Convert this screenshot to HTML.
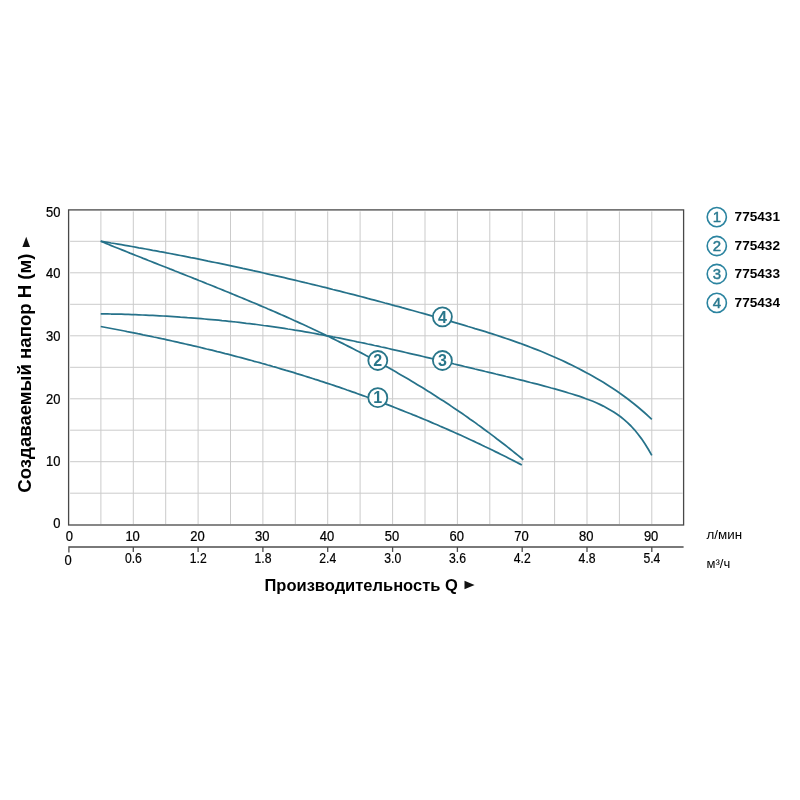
<!DOCTYPE html>
<html lang="ru"><head><meta charset="utf-8"><title>График</title>
<style>
html,body{margin:0;padding:0;background:#fff;}
body{width:800px;height:800px;overflow:hidden;}
svg{display:block;}
text{font-family:'Liberation Sans', sans-serif;fill:#000;}
.t{font-size:14.2px;stroke:#000;stroke-width:0.25px;}
.t2{font-size:14.2px;stroke:#000;stroke-width:0.2px;}
.b{font-weight:bold;}
.c{fill:#29768a;font-weight:bold;font-size:16px;text-anchor:middle;}
</style></head><body>
<svg width="800" height="800" viewBox="0 0 800 800">
<rect width="800" height="800" fill="#fff"/>
<g stroke="#cbcbcb" stroke-width="1" fill="none">
<line x1="100.9" y1="211.4" x2="100.9" y2="524.0"/>
<line x1="133.3" y1="211.4" x2="133.3" y2="524.0"/>
<line x1="165.7" y1="211.4" x2="165.7" y2="524.0"/>
<line x1="198.1" y1="211.4" x2="198.1" y2="524.0"/>
<line x1="230.5" y1="211.4" x2="230.5" y2="524.0"/>
<line x1="262.9" y1="211.4" x2="262.9" y2="524.0"/>
<line x1="295.3" y1="211.4" x2="295.3" y2="524.0"/>
<line x1="327.7" y1="211.4" x2="327.7" y2="524.0"/>
<line x1="360.1" y1="211.4" x2="360.1" y2="524.0"/>
<line x1="392.6" y1="211.4" x2="392.6" y2="524.0"/>
<line x1="425.0" y1="211.4" x2="425.0" y2="524.0"/>
<line x1="457.4" y1="211.4" x2="457.4" y2="524.0"/>
<line x1="489.8" y1="211.4" x2="489.8" y2="524.0"/>
<line x1="522.2" y1="211.4" x2="522.2" y2="524.0"/>
<line x1="554.6" y1="211.4" x2="554.6" y2="524.0"/>
<line x1="587.0" y1="211.4" x2="587.0" y2="524.0"/>
<line x1="619.4" y1="211.4" x2="619.4" y2="524.0"/>
<line x1="651.8" y1="211.4" x2="651.8" y2="524.0"/>
<line x1="70.1" y1="493.2" x2="682.6" y2="493.2"/>
<line x1="70.1" y1="461.7" x2="682.6" y2="461.7"/>
<line x1="70.1" y1="430.2" x2="682.6" y2="430.2"/>
<line x1="70.1" y1="398.8" x2="682.6" y2="398.8"/>
<line x1="70.1" y1="367.3" x2="682.6" y2="367.3"/>
<line x1="70.1" y1="335.8" x2="682.6" y2="335.8"/>
<line x1="70.1" y1="304.3" x2="682.6" y2="304.3"/>
<line x1="70.1" y1="272.8" x2="682.6" y2="272.8"/>
<line x1="70.1" y1="241.3" x2="682.6" y2="241.3"/>
</g>
<rect x="68.6" y="209.9" width="615.0" height="315.1" fill="none" stroke="#484848" stroke-width="1.3"/>
<g fill="none" stroke="#26728a" stroke-width="1.75" stroke-linecap="butt" stroke-linejoin="round">

<path d="M100.7,326.5 L103.3,327.0 L106.0,327.5 L108.6,328.0 L111.3,328.5 L113.9,329.0 L116.6,329.5 L119.2,330.0 L121.9,330.5 L124.5,331.0 L127.2,331.6 L129.8,332.1 L132.5,332.6 L135.1,333.1 L137.8,333.7 L140.4,334.2 L143.1,334.8 L145.7,335.3 L148.4,335.8 L151.0,336.4 L153.7,337.0 L156.3,337.5 L159.0,338.1 L161.6,338.7 L164.3,339.2 L166.9,339.8 L169.6,340.4 L172.2,341.0 L174.9,341.6 L177.5,342.2 L180.2,342.8 L182.8,343.4 L185.4,344.0 L188.1,344.6 L190.7,345.2 L193.4,345.8 L196.0,346.4 L198.7,347.0 L201.3,347.7 L204.0,348.3 L206.6,349.0 L209.3,349.6 L211.9,350.2 L214.6,350.9 L217.2,351.6 L219.9,352.2 L222.5,352.9 L225.2,353.6 L227.8,354.2 L230.5,354.9 L233.1,355.6 L235.8,356.3 L238.4,357.0 L241.1,357.7 L243.7,358.4 L246.4,359.1 L249.0,359.8 L251.7,360.5 L254.3,361.3 L257.0,362.0 L259.6,362.7 L262.3,363.5 L264.9,364.2 L267.6,365.0 L270.2,365.7 L272.8,366.5 L275.5,367.2 L278.1,368.0 L280.8,368.8 L283.4,369.6 L286.1,370.4 L288.7,371.1 L291.4,371.9 L294.0,372.7 L296.7,373.6 L299.3,374.4 L302.0,375.2 L304.6,376.0 L307.3,376.8 L309.9,377.7 L312.6,378.5 L315.2,379.4 L317.9,380.2 L320.5,381.1 L323.2,381.9 L325.8,382.8 L328.5,383.7 L331.1,384.5 L333.8,385.4 L336.4,386.3 L339.1,387.2 L341.7,388.1 L344.4,389.0 L347.0,390.0 L349.7,390.9 L352.3,391.8 L354.9,392.7 L357.6,393.7 L360.2,394.6 L362.9,395.6 L365.5,396.5 L368.2,397.5 L370.8,398.5 L373.5,399.4 L376.1,400.4 L378.8,401.4 L381.4,402.4 L384.1,403.4 L386.7,404.4 L389.4,405.4 L392.0,406.4 L394.7,407.5 L397.3,408.5 L400.0,409.6 L402.6,410.6 L405.3,411.7 L407.9,412.7 L410.6,413.8 L413.2,414.9 L415.9,415.9 L418.5,417.0 L421.2,418.1 L423.8,419.2 L426.5,420.3 L429.1,421.4 L431.8,422.6 L434.4,423.7 L437.1,424.8 L439.7,426.0 L442.3,427.1 L445.0,428.3 L447.6,429.4 L450.3,430.6 L452.9,431.8 L455.6,433.0 L458.2,434.1 L460.9,435.3 L463.5,436.5 L466.2,437.8 L468.8,439.0 L471.5,440.2 L474.1,441.4 L476.8,442.7 L479.4,443.9 L482.1,445.2 L484.7,446.5 L487.4,447.7 L490.0,449.0 L492.7,450.3 L495.3,451.6 L498.0,452.9 L500.6,454.2 L503.3,455.5 L505.9,456.8 L508.6,458.2 L511.2,459.5 L513.9,460.9 L516.5,462.2 L519.2,463.6 L521.8,465.0"/>
<path d="M100.7,241.2 L103.4,242.3 L106.0,243.4 L108.7,244.5 L111.3,245.6 L114.0,246.7 L116.6,247.7 L119.3,248.8 L122.0,249.9 L124.6,250.9 L127.3,252.0 L129.9,253.1 L132.6,254.1 L135.3,255.2 L137.9,256.2 L140.6,257.3 L143.2,258.4 L145.9,259.4 L148.5,260.5 L151.2,261.5 L153.9,262.6 L156.5,263.6 L159.2,264.7 L161.8,265.7 L164.5,266.8 L167.1,267.8 L169.8,268.9 L172.5,269.9 L175.1,271.0 L177.8,272.0 L180.4,273.1 L183.1,274.1 L185.8,275.2 L188.4,276.3 L191.1,277.3 L193.7,278.4 L196.4,279.4 L199.0,280.5 L201.7,281.5 L204.4,282.6 L207.0,283.7 L209.7,284.7 L212.3,285.8 L215.0,286.9 L217.6,288.0 L220.3,289.0 L223.0,290.1 L225.6,291.2 L228.3,292.3 L230.9,293.4 L233.6,294.5 L236.3,295.6 L238.9,296.7 L241.6,297.8 L244.2,298.9 L246.9,300.0 L249.5,301.1 L252.2,302.2 L254.9,303.3 L257.5,304.4 L260.2,305.6 L262.8,306.7 L265.5,307.8 L268.1,309.0 L270.8,310.1 L273.5,311.3 L276.1,312.4 L278.8,313.6 L281.4,314.8 L284.1,315.9 L286.8,317.1 L289.4,318.3 L292.1,319.5 L294.7,320.7 L297.4,321.9 L300.0,323.1 L302.7,324.3 L305.4,325.5 L308.0,326.8 L310.7,328.0 L313.3,329.2 L316.0,330.5 L318.6,331.8 L321.3,333.0 L324.0,334.3 L326.6,335.6 L329.3,336.8 L331.9,338.1 L334.6,339.4 L337.2,340.8 L339.9,342.1 L342.6,343.4 L345.2,344.7 L347.9,346.1 L350.5,347.4 L353.2,348.8 L355.9,350.2 L358.5,351.5 L361.2,352.9 L363.8,354.3 L366.5,355.7 L369.1,357.1 L371.8,358.6 L374.5,360.0 L377.1,361.4 L379.8,362.9 L382.4,364.4 L385.1,365.8 L387.7,367.3 L390.4,368.8 L393.1,370.3 L395.7,371.8 L398.4,373.4 L401.0,374.9 L403.7,376.4 L406.4,378.0 L409.0,379.6 L411.7,381.2 L414.3,382.8 L417.0,384.4 L419.6,386.0 L422.3,387.6 L425.0,389.3 L427.6,390.9 L430.3,392.6 L432.9,394.3 L435.6,396.0 L438.2,397.7 L440.9,399.4 L443.6,401.1 L446.2,402.8 L448.9,404.6 L451.5,406.4 L454.2,408.2 L456.9,410.0 L459.5,411.8 L462.2,413.6 L464.8,415.4 L467.5,417.3 L470.1,419.2 L472.8,421.0 L475.5,422.9 L478.1,424.9 L480.8,426.8 L483.4,428.7 L486.1,430.7 L488.7,432.6 L491.4,434.6 L494.1,436.6 L496.7,438.7 L499.4,440.7 L502.0,442.7 L504.7,444.8 L507.4,446.9 L510.0,449.0 L512.7,451.1 L515.3,453.2 L518.0,455.4 L520.6,457.5 L523.3,459.7"/>
<path d="M100.7,313.8 L104.2,313.8 L107.6,313.9 L111.1,314.0 L114.6,314.0 L118.0,314.1 L121.5,314.2 L125.0,314.3 L128.4,314.4 L131.9,314.6 L135.4,314.7 L138.8,314.8 L142.3,315.0 L145.8,315.1 L149.2,315.3 L152.7,315.4 L156.2,315.6 L159.6,315.8 L163.1,316.0 L166.6,316.2 L170.0,316.4 L173.5,316.6 L177.0,316.8 L180.4,317.1 L183.9,317.3 L187.4,317.6 L190.8,317.8 L194.3,318.1 L197.7,318.4 L201.2,318.7 L204.7,319.0 L208.1,319.3 L211.6,319.6 L215.1,319.9 L218.5,320.2 L222.0,320.6 L225.5,320.9 L228.9,321.3 L232.4,321.7 L235.9,322.0 L239.3,322.4 L242.8,322.8 L246.3,323.3 L249.7,323.7 L253.2,324.1 L256.7,324.5 L260.1,325.0 L263.6,325.5 L267.1,325.9 L270.5,326.4 L274.0,326.9 L277.5,327.4 L280.9,327.9 L284.4,328.4 L287.9,329.0 L291.3,329.5 L294.8,330.1 L298.3,330.6 L301.7,331.2 L305.2,331.8 L308.7,332.4 L312.1,333.0 L315.6,333.6 L319.1,334.3 L322.5,334.9 L326.0,335.6 L329.5,336.2 L332.9,336.9 L336.4,337.5 L339.9,338.2 L343.3,338.9 L346.8,339.6 L350.3,340.3 L353.7,341.0 L357.2,341.8 L360.7,342.5 L364.1,343.2 L367.6,344.0 L371.1,344.7 L374.5,345.5 L378.0,346.2 L381.4,347.0 L384.9,347.7 L388.4,348.5 L391.8,349.3 L395.3,350.1 L398.8,350.9 L402.2,351.7 L405.7,352.5 L409.2,353.3 L412.6,354.1 L416.1,354.9 L419.6,355.7 L423.0,356.5 L426.5,357.3 L430.0,358.2 L433.4,359.0 L436.9,359.8 L440.4,360.6 L443.8,361.5 L447.3,362.3 L450.8,363.1 L454.2,364.0 L457.7,364.8 L461.2,365.6 L464.6,366.5 L468.1,367.3 L471.6,368.1 L475.0,369.0 L478.5,369.8 L482.0,370.6 L485.4,371.5 L488.9,372.3 L492.4,373.1 L495.8,374.0 L499.3,374.8 L502.8,375.6 L506.2,376.5 L509.7,377.3 L513.2,378.1 L516.6,379.0 L520.1,379.8 L523.6,380.7 L527.0,381.6 L530.5,382.5 L534.0,383.3 L537.4,384.2 L540.9,385.1 L544.4,386.1 L547.8,387.0 L551.3,388.0 L554.8,388.9 L558.2,389.9 L561.7,390.9 L565.1,391.9 L568.6,393.0 L572.1,394.0 L575.5,395.1 L579.0,396.2 L582.5,397.4 L585.9,398.7 L589.4,400.0 L592.9,401.3 L596.3,402.8 L599.8,404.4 L603.3,406.1 L606.7,407.9 L610.2,409.9 L613.7,412.0 L617.1,414.3 L620.6,416.8 L624.1,419.6 L627.5,422.6 L631.0,426.0 L634.5,429.8 L637.9,434.0 L641.4,438.6 L644.9,443.7 L648.3,449.3 L651.8,455.4"/>
<path d="M100.7,241.2 L104.2,241.8 L107.6,242.4 L111.1,243.0 L114.6,243.5 L118.0,244.1 L121.5,244.7 L125.0,245.3 L128.4,245.9 L131.9,246.5 L135.4,247.1 L138.8,247.8 L142.3,248.4 L145.8,249.0 L149.2,249.6 L152.7,250.3 L156.2,250.9 L159.6,251.6 L163.1,252.2 L166.6,252.9 L170.0,253.5 L173.5,254.2 L177.0,254.8 L180.4,255.5 L183.9,256.2 L187.4,256.9 L190.8,257.6 L194.3,258.2 L197.7,258.9 L201.2,259.6 L204.7,260.3 L208.1,261.1 L211.6,261.8 L215.1,262.5 L218.5,263.2 L222.0,263.9 L225.5,264.7 L228.9,265.4 L232.4,266.1 L235.9,266.9 L239.3,267.6 L242.8,268.4 L246.3,269.1 L249.7,269.9 L253.2,270.7 L256.7,271.4 L260.1,272.2 L263.6,273.0 L267.1,273.8 L270.5,274.6 L274.0,275.3 L277.5,276.1 L280.9,276.9 L284.4,277.7 L287.9,278.6 L291.3,279.4 L294.8,280.2 L298.3,281.0 L301.7,281.8 L305.2,282.7 L308.7,283.5 L312.1,284.3 L315.6,285.2 L319.1,286.0 L322.5,286.9 L326.0,287.7 L329.5,288.6 L332.9,289.5 L336.4,290.3 L339.9,291.2 L343.3,292.1 L346.8,293.0 L350.3,293.9 L353.7,294.7 L357.2,295.6 L360.7,296.5 L364.1,297.4 L367.6,298.4 L371.1,299.3 L374.5,300.2 L378.0,301.1 L381.4,302.0 L384.9,303.0 L388.4,303.9 L391.8,304.8 L395.3,305.8 L398.8,306.7 L402.2,307.7 L405.7,308.6 L409.2,309.6 L412.6,310.5 L416.1,311.5 L419.6,312.5 L423.0,313.4 L426.5,314.4 L430.0,315.4 L433.4,316.4 L436.9,317.4 L440.4,318.4 L443.8,319.4 L447.3,320.4 L450.8,321.4 L454.2,322.4 L457.7,323.4 L461.2,324.4 L464.6,325.4 L468.1,326.5 L471.6,327.5 L475.0,328.6 L478.5,329.6 L482.0,330.7 L485.4,331.7 L488.9,332.8 L492.4,333.9 L495.8,335.0 L499.3,336.2 L502.8,337.3 L506.2,338.5 L509.7,339.7 L513.2,340.9 L516.6,342.1 L520.1,343.3 L523.6,344.6 L527.0,345.9 L530.5,347.2 L534.0,348.6 L537.4,349.9 L540.9,351.3 L544.4,352.7 L547.8,354.2 L551.3,355.7 L554.8,357.2 L558.2,358.7 L561.7,360.3 L565.1,361.9 L568.6,363.6 L572.1,365.3 L575.5,367.0 L579.0,368.8 L582.5,370.6 L585.9,372.4 L589.4,374.3 L592.9,376.2 L596.3,378.2 L599.8,380.3 L603.3,382.3 L606.7,384.5 L610.2,386.7 L613.7,389.0 L617.1,391.3 L620.6,393.7 L624.1,396.2 L627.5,398.8 L631.0,401.5 L634.5,404.2 L637.9,407.0 L641.4,410.0 L644.9,413.0 L648.3,416.1 L651.8,419.3"/>
</g>
<g>
<circle cx="377.8" cy="397.7" r="9.5" fill="#fff" stroke="#29768a" stroke-width="1.8"/><text class="c" x="377.8" y="403.4">1</text>
<circle cx="377.8" cy="360.5" r="9.5" fill="#fff" stroke="#29768a" stroke-width="1.8"/><text class="c" x="377.8" y="366.2">2</text>
<circle cx="442.4" cy="360.5" r="9.5" fill="#fff" stroke="#29768a" stroke-width="1.8"/><text class="c" x="442.4" y="366.2">3</text>
<circle cx="442.4" cy="316.8" r="9.5" fill="#fff" stroke="#29768a" stroke-width="1.8"/><text class="c" x="442.4" y="322.5">4</text>
</g>
<g class="t" text-anchor="end">
<text transform="translate(60.5,216.6) scale(0.915,1)">50</text>
<text transform="translate(60.5,277.5) scale(0.915,1)">40</text>
<text transform="translate(60.5,341.1) scale(0.915,1)">30</text>
<text transform="translate(60.5,403.8) scale(0.915,1)">20</text>
<text transform="translate(60.5,466.1) scale(0.915,1)">10</text>
<text transform="translate(60.5,528.2) scale(0.915,1)">0</text>
</g>
<g class="t" text-anchor="middle">
<text transform="translate(69.4,541.0) scale(0.915,1)">0</text>
<text transform="translate(132.6,541.0) scale(0.915,1)">10</text>
<text transform="translate(197.4,541.0) scale(0.915,1)">20</text>
<text transform="translate(262.2,541.0) scale(0.915,1)">30</text>
<text transform="translate(327.0,541.0) scale(0.915,1)">40</text>
<text transform="translate(391.9,541.0) scale(0.915,1)">50</text>
<text transform="translate(456.7,541.0) scale(0.915,1)">60</text>
<text transform="translate(521.5,541.0) scale(0.915,1)">70</text>
<text transform="translate(586.3,541.0) scale(0.915,1)">80</text>
<text transform="translate(651.1,541.0) scale(0.915,1)">90</text>
</g>
<g stroke="#4d4d4d" stroke-width="1.3" fill="none"><path d="M68.89999999999999,552.5 V547 H683.6"/>
<line x1="133.3" y1="547" x2="133.3" y2="552"/>
<line x1="198.1" y1="547" x2="198.1" y2="552"/>
<line x1="262.9" y1="547" x2="262.9" y2="552"/>
<line x1="327.7" y1="547" x2="327.7" y2="552"/>
<line x1="392.6" y1="547" x2="392.6" y2="552"/>
<line x1="457.4" y1="547" x2="457.4" y2="552"/>
<line x1="522.2" y1="547" x2="522.2" y2="552"/>
<line x1="587.0" y1="547" x2="587.0" y2="552"/>
<line x1="651.8" y1="547" x2="651.8" y2="552"/>
</g>
<g class="t2" text-anchor="middle">
<text transform="translate(68.0,564.8) scale(0.915,1)">0</text>
<text transform="translate(133.4,563.0) scale(0.86,1)">0.6</text>
<text transform="translate(198.2,563.0) scale(0.86,1)">1.2</text>
<text transform="translate(263.0,563.0) scale(0.86,1)">1.8</text>
<text transform="translate(327.8,563.0) scale(0.86,1)">2.4</text>
<text transform="translate(392.7,563.0) scale(0.86,1)">3.0</text>
<text transform="translate(457.5,563.0) scale(0.86,1)">3.6</text>
<text transform="translate(522.3,563.0) scale(0.86,1)">4.2</text>
<text transform="translate(587.1,563.0) scale(0.86,1)">4.8</text>
<text transform="translate(651.9,563.0) scale(0.86,1)">5.4</text>
</g>
<text x="706.5" y="539.4" style="font-size:13.4px">л/мин</text>
<text x="706.5" y="567.6" style="font-size:13px">м³/ч</text>
<text class="b" x="264.5" y="590.8" style="font-size:16.5px">Производительность Q</text>
<path d="M464.5,580.7 L474.6,585 L464.5,589.3 Z" fill="#111"/>
<text class="b" transform="translate(30.6,492.7) rotate(-90)" style="font-size:18.6px">Создаваемый напор Н (м)</text>
<path d="M22.4,246.9 L26.2,236.8 L30,246.9 Z" fill="#111"/>
<circle cx="716.8" cy="217.1" r="9.6" fill="#fff" stroke="#2b84a0" stroke-width="1.6"/><text x="716.8" y="222.4" text-anchor="middle" style="font-size:15px;fill:#2b7a90;stroke:#2b7a90;stroke-width:0.45">1</text>
<text class="b" x="734.6" y="221" style="font-size:13.6px">775431</text>
<circle cx="716.8" cy="246" r="9.6" fill="#fff" stroke="#2b84a0" stroke-width="1.6"/><text x="716.8" y="251.3" text-anchor="middle" style="font-size:15px;fill:#2b7a90;stroke:#2b7a90;stroke-width:0.45">2</text>
<text class="b" x="734.6" y="250.2" style="font-size:13.6px">775432</text>
<circle cx="716.8" cy="274" r="9.6" fill="#fff" stroke="#2b84a0" stroke-width="1.6"/><text x="716.8" y="279.3" text-anchor="middle" style="font-size:15px;fill:#2b7a90;stroke:#2b7a90;stroke-width:0.45">3</text>
<text class="b" x="734.6" y="278.4" style="font-size:13.6px">775433</text>
<circle cx="716.8" cy="302.9" r="9.6" fill="#fff" stroke="#2b84a0" stroke-width="1.6"/><text x="716.8" y="308.2" text-anchor="middle" style="font-size:15px;fill:#2b7a90;stroke:#2b7a90;stroke-width:0.45">4</text>
<text class="b" x="734.6" y="307.1" style="font-size:13.6px">775434</text>
</svg></body></html>
